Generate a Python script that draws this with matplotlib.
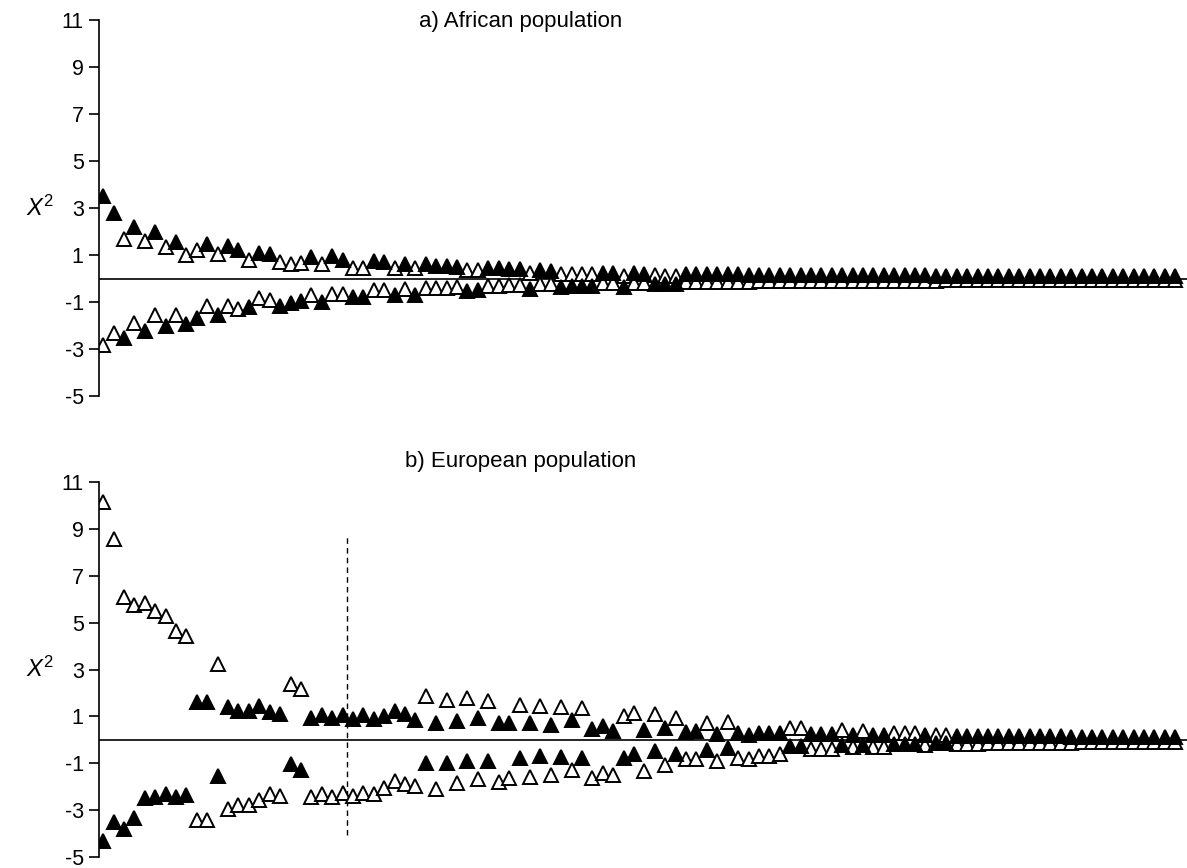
import numpy as np
import matplotlib
matplotlib.use('Agg')
import matplotlib.pyplot as plt
import matplotlib.transforms as mtransforms

plt.rcParams['font.family'] = ['Liberation Sans', 'DejaVu Sans']
plt.rcParams['mathtext.fontset'] = 'custom'
plt.rcParams['mathtext.rm'] = 'Liberation Sans'
plt.rcParams['mathtext.it'] = 'Liberation Sans:italic'

# ---- data ----
# one upper (positive) and one lower (negative) value per position;
# *_upper_filled = 1 means the upper point is the filled triangle
# and the lower one is open, 0 the other way round
a_upper = [3.5, 2.8, 1.7, 2.2, 1.6, 2.0, 1.35, 1.55, 1.0, 1.2,
           1.45, 1.05, 1.4, 1.2, 0.8, 1.1, 1.05, 0.7, 0.6, 0.65,
           0.9, 0.6, 0.95, 0.8, 0.45, 0.45, 0.75, 0.7, 0.45, 0.6,
           0.45, 0.6, 0.55, 0.55, 0.5, 0.35, 0.35, 0.45, 0.45, 0.4,
           0.4, 0.25, 0.35, 0.3, 0.2, 0.2, 0.2, 0.18, 0.25, 0.25,
           0.12, 0.22, 0.2, 0.13, 0.12, 0.12, 0.2, 0.2, 0.19, 0.18,
           0.18, 0.18, 0.17, 0.17, 0.17, 0.16, 0.16, 0.15, 0.15, 0.15,
           0.15, 0.14, 0.14, 0.14, 0.14, 0.13, 0.13, 0.13, 0.13, 0.13,
           0.12, 0.12, 0.12, 0.12, 0.12, 0.11, 0.11, 0.11, 0.11, 0.11,
           0.11, 0.1, 0.1, 0.1, 0.1, 0.1, 0.1, 0.1, 0.1, 0.09,
           0.09, 0.09, 0.09, 0.09]
a_lower = [-2.85, -2.3, -2.55, -1.9, -2.25, -1.55, -2.0, -1.55, -1.95, -1.7,
           -1.15, -1.55, -1.15, -1.3, -1.2, -0.85, -0.9, -1.15, -1.05, -0.95,
           -0.7, -1.0, -0.65, -0.65, -0.8, -0.8, -0.5, -0.5, -0.7, -0.45,
           -0.7, -0.4, -0.4, -0.4, -0.38, -0.55, -0.5, -0.3, -0.3, -0.28,
           -0.28, -0.45, -0.25, -0.22, -0.35, -0.33, -0.33, -0.3, -0.2, -0.2,
           -0.38, -0.18, -0.18, -0.25, -0.25, -0.25, -0.15, -0.15, -0.14, -0.14,
           -0.13, -0.13, -0.13, -0.12, -0.12, -0.12, -0.12, -0.11, -0.11, -0.11,
           -0.11, -0.1, -0.1, -0.1, -0.1, -0.1, -0.09, -0.09, -0.09, -0.09,
           -0.09, -0.08, -0.08, -0.08, -0.08, -0.08, -0.08, -0.07, -0.07, -0.07,
           -0.07, -0.07, -0.07, -0.06, -0.06, -0.06, -0.06, -0.06, -0.06, -0.06,
           -0.05, -0.05, -0.05, -0.05]
a_upper_filled = [1, 1, 0, 1, 0, 1, 0, 1, 0, 0,
                  1, 0, 1, 1, 0, 1, 1, 0, 0, 0,
                  1, 0, 1, 1, 0, 0, 1, 1, 0, 1,
                  0, 1, 1, 1, 1, 0, 0, 1, 1, 1,
                  1, 0, 1, 1, 0, 0, 0, 0, 1, 1,
                  0, 1, 1, 0, 0, 0, 1, 1, 1, 1,
                  1, 1, 1, 1, 1, 1, 1, 1, 1, 1,
                  1, 1, 1, 1, 1, 1, 1, 1, 1, 1,
                  1, 1, 1, 1, 1, 1, 1, 1, 1, 1,
                  1, 1, 1, 1, 1, 1, 1, 1, 1, 1,
                  1, 1, 1, 1]

b_upper = [10.15, 8.55, 6.1, 5.75, 5.85, 5.5, 5.3, 4.65, 4.45, 1.6,
           1.6, 3.25, 1.4, 1.25, 1.25, 1.45, 1.2, 1.1, 2.4, 2.15,
           0.95, 1.05, 0.95, 1.05, 0.9, 1.05, 0.9, 1.0, 1.25, 1.1,
           0.85, 1.85, 0.7, 1.7, 0.8, 1.8, 0.95, 1.65, 0.7, 0.72,
           1.48, 0.72, 1.45, 0.65, 1.38, 0.86, 1.34, 0.46, 0.58, 0.39,
           1.03, 1.14, 0.44, 1.1, 0.49, 0.92, 0.35, 0.38, 0.72, 0.25,
           0.77, 0.28, 0.21, 0.28, 0.28, 0.28, 0.49, 0.49, 0.24, 0.24,
           0.24, 0.41, 0.22, 0.38, 0.22, 0.22, 0.3, 0.3, 0.3, 0.2,
           0.2, 0.2, 0.18, 0.18, 0.18, 0.17, 0.17, 0.16, 0.16, 0.16,
           0.15, 0.15, 0.15, 0.14, 0.14, 0.14, 0.13, 0.13, 0.13, 0.12,
           0.12, 0.12, 0.12, 0.12]
b_lower = [-4.3, -3.5, -3.8, -3.35, -2.5, -2.45, -2.3, -2.45, -2.35, -3.4,
           -3.4, -1.55, -2.95, -2.8, -2.8, -2.55, -2.3, -2.4, -1.05, -1.3,
           -2.45, -2.3, -2.45, -2.25, -2.4, -2.25, -2.3, -2.05, -1.75, -1.9,
           -1.97, -0.97, -2.1, -1.0, -1.85, -0.9, -1.68, -0.9, -1.82, -1.65,
           -0.77, -1.58, -0.7, -1.5, -0.75, -1.27, -0.76, -1.65, -1.41, -1.48,
           -0.76, -0.59, -1.31, -0.49, -1.08, -0.59, -0.83, -0.8, -0.45, -0.92,
           -0.35, -0.76, -0.8, -0.69, -0.69, -0.61, -0.27, -0.27, -0.38, -0.38,
           -0.38, -0.2, -0.32, -0.2, -0.3, -0.3, -0.18, -0.18, -0.18, -0.22,
           -0.15, -0.15, -0.18, -0.17, -0.17, -0.15, -0.15, -0.14, -0.14, -0.13,
           -0.13, -0.12, -0.12, -0.12, -0.11, -0.11, -0.1, -0.1, -0.1, -0.09,
           -0.09, -0.09, -0.08, -0.08]
b_upper_filled = [0, 0, 0, 0, 0, 0, 0, 0, 0, 1,
                  1, 0, 1, 1, 1, 1, 1, 1, 0, 0,
                  1, 1, 1, 1, 1, 1, 1, 1, 1, 1,
                  1, 0, 1, 0, 1, 0, 1, 0, 1, 1,
                  0, 1, 0, 1, 0, 1, 0, 1, 1, 1,
                  0, 0, 1, 0, 1, 0, 1, 1, 0, 1,
                  0, 1, 1, 1, 1, 1, 0, 0, 1, 1,
                  1, 0, 1, 0, 1, 1, 0, 0, 0, 1,
                  0, 0, 1, 1, 1, 1, 1, 1, 1, 1,
                  1, 1, 1, 1, 1, 1, 1, 1, 1, 1,
                  1, 1, 1, 1]

panel_titles = ['a) African population', 'b) European population']
y_ticks = [-5, -3, -1, 1, 3, 5, 7, 9, 11]
cutoff_x = 24.45          # dashed line in panel b, between positions 24 and 25
cutoff_y = (-4.05, 8.65)

W, H = 1187, 868
fig = plt.figure(figsize=(W / 100, H / 100), dpi=100)

# axes boxes in pixels: (left, y of -5, y of 11)
boxes = [(99, 396, 20), (99, 857, 482)]
title_y = [22, 461]
panels = [(a_upper, a_lower, a_upper_filled), (b_upper, b_lower, b_upper_filled)]

for k, (upper, lower, flag) in enumerate(panels):
    left, ybot, ytop = boxes[k]
    ax = fig.add_axes([left / W, 1 - ybot / H, (W - left) / W, (ybot - ytop) / H])
    upper = np.array(upper)
    lower = np.array(lower)
    flag = np.array(flag).astype(bool)
    x = np.arange(1, len(upper) + 1)

    ax.axhline(0, color='black', lw=1.2, zorder=1)

    mk = dict(marker='^', ms=10, mew=1.4, ls='none', mec='black')
    # open triangles first, filled ones on top
    ax.plot(x[~flag], upper[~flag], mfc='white', zorder=2, **mk)
    ax.plot(x[flag], lower[flag], mfc='white', zorder=2, **mk)
    ax.plot(x[flag], upper[flag], mfc='black', zorder=3, **mk)
    ax.plot(x[~flag], lower[~flag], mfc='black', zorder=3, **mk)

    if k == 1:
        ax.plot([cutoff_x, cutoff_x], cutoff_y, color='black', lw=1.0,
                ls=(0, (4, 3)), zorder=1)

    ax.set_ylim(-5, 11)
    ax.set_xlim(0.6, 1 + (W - 102) / 10.42)
    ax.set_yticks(y_ticks)
    ax.set_yticklabels([str(t) for t in y_ticks], fontsize=15.5)
    ax.set_xticks([])
    for s in ['top', 'right', 'bottom']:
        ax.spines[s].set_visible(False)
    ax.spines['left'].set_linewidth(1.2)
    ax.tick_params(axis='y', direction='out', length=7, width=1.2, pad=4)
    ax.patch.set_alpha(0)

    trans = mtransforms.blended_transform_factory(ax.transAxes, ax.transData)
    ax.text((40 - left) / (W - left), 3, r'$X^{\mathrm{2}}$', transform=trans,
            ha='center', va='center', fontsize=17)

    fig.text(521 / W, 1 - title_y[k] / H, panel_titles[k], ha='center',
             va='center', fontsize=16)

fig.savefig('out.png', dpi=100)
